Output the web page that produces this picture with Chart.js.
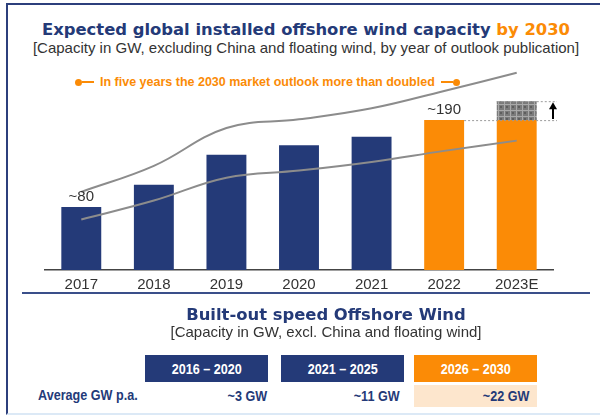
<!DOCTYPE html>
<html>
<head>
<meta charset="utf-8">
<script src="https://cdn.jsdelivr.net/npm/chart.js@4.4.0/dist/chart.umd.min.js"></script>
<style>
  body { margin: 0; width: 600px; height: 415px; background: #fff; font-family: "Liberation Sans", Arial, sans-serif; overflow: hidden; }
  .frame { position: absolute; left: 6px; top: 3px; width: 600px; height: 408px; border-left: 2px solid #2c3f7c; border-top: 2px solid #2c3f7c; border-bottom: 2px solid #dce9f6; }
  .t { position: absolute; white-space: nowrap; }
  .navy { color: #243a78; }
  .orange { color: #fb8b06; }
  .head { font-family: "DejaVu Sans", sans-serif; font-weight: bold; font-size: 16.4px; }
  .sq { display: inline-block; transform: scaleX(0.84); }
  .box { position: absolute; top: 355px; height: 27px; width: 123px; color: #fff; font-weight: bold; font-size: 15px; line-height: 27px; text-align: center; }
  .val { position: absolute; top: 385px; height: 22px; line-height: 22px; font-weight: bold; font-size: 15px; color: #243a78; text-align: right; }
  .val .sq { transform-origin: right center; }
  #wrap { position: absolute; left: 0; top: 50px; width: 600px; height: 260px; }
</style>
</head>
<body>
<div class="frame"></div>

<div class="t navy head" style="left:0;width:612px;text-align:center;top:20px;">Expected global installed offshore wind capacity <span class="orange">by 2030</span></div>
<div class="t" style="left:0;width:612px;text-align:center;top:39px;font-size:15px;color:#333;">[Capacity in GW, excluding China and floating wind, by year of outlook publication]</div>

<div class="t orange" style="left:75px;top:75px;font-size:12.5px;font-weight:bold;display:flex;align-items:center;">
  <span style="display:inline-block;width:7px;height:7px;border-radius:50%;background:#fb8b06;"></span>
  <span style="display:inline-block;width:12px;height:2px;background:#fb8b06;margin-right:6px;"></span>
  <span>In five years the 2030 market outlook more than doubled</span>
  <span style="display:inline-block;width:12px;height:2px;background:#fb8b06;margin-left:6px;"></span>
  <span style="display:inline-block;width:7px;height:7px;border-radius:50%;background:#fb8b06;"></span>
</div>

<div id="wrap"><canvas id="chart" width="600" height="260"></canvas></div>

<div style="position:absolute;left:22px;top:292px;width:568px;height:2px;background:#3a4f8a;"></div>

<div class="t navy head" style="left:0;width:652px;text-align:center;top:305px;">Built-out speed Offshore Wind</div>
<div class="t" style="left:0;width:652px;text-align:center;top:323px;font-size:15px;color:#333;">[Capacity in GW, excl. China and floating wind]</div>

<div class="box" style="left:145px;background:#243a78;"><span class="sq">2016 – 2020</span></div>
<div class="box" style="left:281px;background:#243a78;"><span class="sq">2021 – 2025</span></div>
<div class="box" style="left:414px;background:#fb8b06;"><span class="sq">2026 – 2030</span></div>
<div style="position:absolute;left:414px;top:385px;width:123px;height:22px;background:#fde6cd;"></div>

<div class="t navy" style="left:38px;top:386px;font-size:15px;font-weight:bold;"><span class="sq" style="transform-origin:left center;">Average GW p.a.</span></div>
<div class="val" style="left:145px;width:122px;"><span class="sq">~3 GW</span></div>
<div class="val" style="left:281px;width:119px;"><span class="sq">~11 GW</span></div>
<div class="val" style="left:414px;width:115px;"><span class="sq">~22 GW</span></div>

<script>
const years = ['2017', '2018', '2019', '2020', '2021', '2022', '2023E'];
const capacity = [80, 108, 146, 158, 169, 190, 190];
const upsideTop = [null, null, null, null, null, null, 214];
const upperTrend = [99, 132, 180, 191, 205, 227, 250];
const lowerTrend = [64, 88, 117, 126, 137, 151, 164];
const barLabels = ['~80', '', '', '', '', '~190', ''];

const navy = '#243a78';
const orange = '#fb8b06';
const barColors = capacity.map((v, i) => i < 5 ? navy : orange);

// grey checker pattern for the expected upside
const pc = document.createElement('canvas');
pc.width = 6; pc.height = 6;
const pctx = pc.getContext('2d');
pctx.fillStyle = '#7a7a7a';
pctx.fillRect(0, 0, 6, 6);
pctx.fillStyle = '#a9a9a9';
pctx.fillRect(0, 0, 6, 1);
pctx.fillRect(0, 0, 1, 6);
pctx.fillStyle = '#5e5e5e';
pctx.fillRect(2, 2, 2, 2);
const hatch = pctx.createPattern(pc, 'repeat');

const extras = {
    id: 'extras',
    afterDatasetsDraw(chart) {
        const ctx = chart.ctx;
        const y = chart.scales.y;
        const area = chart.chartArea;
        const bars = chart.getDatasetMeta(0).data;

        ctx.save();
        ctx.font = '15px "Liberation Sans", Arial, sans-serif';
        ctx.fillStyle = '#333';
        ctx.textAlign = 'center';
        ctx.textBaseline = 'middle';
        bars.forEach((b, i) => {
            if (barLabels[i]) ctx.fillText(barLabels[i], b.x, b.y - 10);
        });

        // dotted guides around the upside box
        const yLow = y.getPixelForValue(capacity[6]);
        const yHigh = y.getPixelForValue(upsideTop[6]);
        const last = bars[6];
        const xEnd = area.right + 4;
        ctx.strokeStyle = '#9a9a9a';
        ctx.lineWidth = 1;
        ctx.setLineDash([2, 2]);
        ctx.beginPath();
        ctx.moveTo(bars[5].x + bars[5].width / 2, yLow + 0.5);
        ctx.lineTo(xEnd, yLow + 0.5);
        ctx.moveTo(last.x - last.width / 2, yHigh + 0.5);
        ctx.lineTo(xEnd, yHigh + 0.5);
        ctx.stroke();
        ctx.setLineDash([]);

        // arrow
        const ax = area.right;
        ctx.strokeStyle = '#000';
        ctx.fillStyle = '#000';
        ctx.lineWidth = 2;
        ctx.beginPath();
        ctx.moveTo(ax, yLow - 1);
        ctx.lineTo(ax, yHigh + 6);
        ctx.stroke();
        ctx.beginPath();
        ctx.moveTo(ax, yHigh + 1);
        ctx.lineTo(ax - 4, yHigh + 8);
        ctx.lineTo(ax + 4, yHigh + 8);
        ctx.closePath();
        ctx.fill();
        ctx.restore();
    }
};

new Chart(document.getElementById('chart'), {
    type: 'bar',
    data: {
        labels: years,
        datasets: [
            {
                data: capacity,
                backgroundColor: barColors,
                barPercentage: 0.55,
                categoryPercentage: 1,
                order: 2,
            },
            {
                data: upsideTop.map((v, i) => v === null ? null : [capacity[i], v]),
                backgroundColor: hatch,
                barPercentage: 0.55,
                categoryPercentage: 1,
                order: 1,
            },
            {
                type: 'line',
                data: upperTrend,
                borderColor: '#8c8c8c',
                borderWidth: 2,
                pointRadius: 0,
                tension: 0.4,
                order: 0,
            },
            {
                type: 'line',
                data: lowerTrend,
                borderColor: '#8c8c8c',
                borderWidth: 2,
                pointRadius: 0,
                tension: 0.4,
                order: 0,
            },
        ],
    },
    options: {
        responsive: false,
        animation: false,
        maintainAspectRatio: false,
        layout: { padding: { left: 45, right: 47, top: 7, bottom: 10 } },
        plugins: { legend: { display: false }, tooltip: { enabled: false } },
        scales: {
            x: {
                stacked: true,
                grid: { display: false, drawTicks: false },
                border: { display: true, color: '#444', width: 1.5 },
                ticks: { color: '#333', padding: 6, maxRotation: 0, font: { size: 15, family: '"Liberation Sans", Arial, sans-serif' } },
            },
            y: {
                display: false,
                stacked: false,
                min: 0,
                max: 270,
            },
        },
    },
    plugins: [extras],
});
</script>
</body>
</html>
